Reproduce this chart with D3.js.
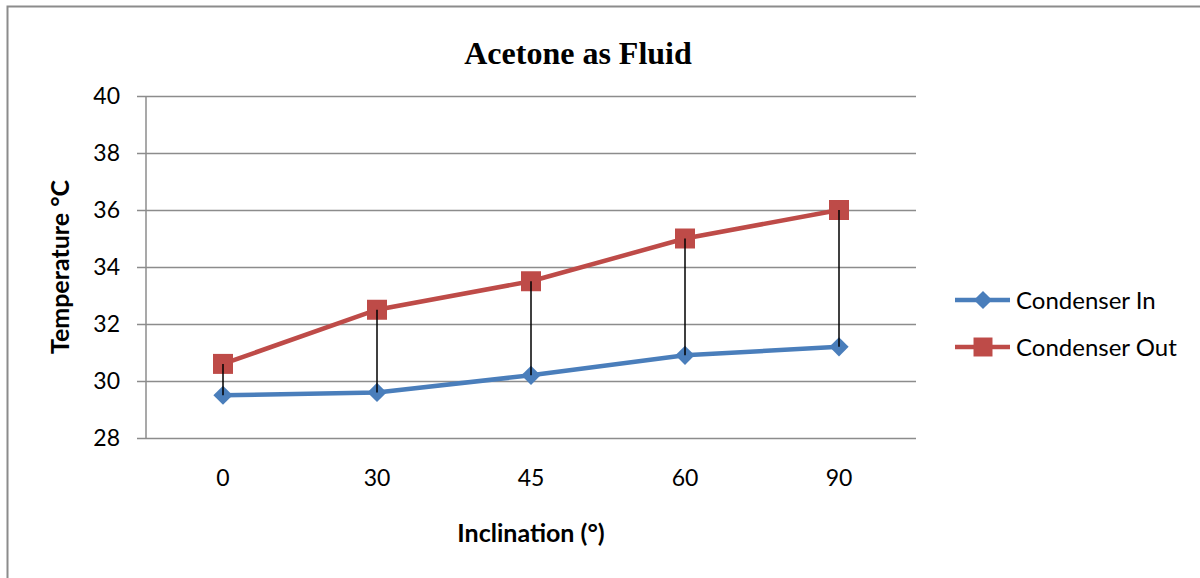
<!DOCTYPE html>
<html>
<head>
<meta charset="utf-8">
<script src="https://cdn.jsdelivr.net/npm/d3@7"></script>
<style>
  body { margin: 0; background: #fff; }
  text { font-family: Lato, "Open Sans", sans-serif; }
</style>
</head>
<body>
<div id="chart-area"></div>
<script>
const inclinations = ["0", "30", "45", "60", "90"];
const condenserIn = [29.5, 29.6, 30.2, 30.9, 31.2];
const condenserOut = [30.6, 32.5, 33.5, 35, 36];
const yTicks = [28, 30, 32, 34, 36, 38, 40];

const canvas_dims = { width: 1200, height: 578 };
const plot = { left: 146, right: 916, top: 96, bottom: 438 };

const svg = d3
  .select("#chart-area")
  .append("svg")
  .attr("width", canvas_dims.width)
  .attr("height", canvas_dims.height);

// frame (top and left edges visible)
svg.append("path")
  .attr("d", "M7.5,600 V6.5 H1210")
  .attr("fill", "none")
  .attr("stroke", "#8c8c8c")
  .attr("stroke-width", 2);

const x = d3.scaleBand().domain(inclinations).range([plot.left, plot.right]);
const y = d3.scaleLinear().domain([28, 40]).range([plot.bottom, plot.top]);
const cx = d => x(d) + x.bandwidth() / 2;

// gridlines + y axis
const yAxis = d3.axisLeft(y).tickValues(yTicks)
  .tickSize(-(plot.right - plot.left)).tickPadding(26);
const yg = svg.append("g")
  .attr("transform", `translate(${plot.left},0)`)
  .call(yAxis);
yg.select(".domain").remove();
yg.selectAll(".tick line")
  .attr("stroke", "#8c8c8c").attr("stroke-width", 1.5)
  .attr("x1", -9);
yg.selectAll(".tick text")
  .attr("font-size", 23).attr("fill", "#000")
  .attr("font-family", "Lato, sans-serif");

svg.append("line")
  .attr("x1", plot.left).attr("x2", plot.left)
  .attr("y1", plot.top).attr("y2", plot.bottom)
  .attr("stroke", "#8c8c8c").attr("stroke-width", 1.5);

// x axis labels
const xAxis = d3.axisBottom(x).tickSize(0).tickPadding(32);
const xg = svg.append("g")
  .attr("transform", `translate(0,${plot.bottom})`)
  .call(xAxis);
xg.select(".domain").remove();
xg.selectAll(".tick text")
  .attr("font-size", 23).attr("fill", "#000")
  .attr("font-family", "Lato, sans-serif");

const series = [
  { name: "Condenser In", values: condenserIn, color: "#4a7ebb", size: 185, rot: 45 },
  { name: "Condenser Out", values: condenserOut, color: "#be4b48", size: 400, rot: 0 }
];

const line = d3.line().x(d => cx(d.cat)).y(d => y(d.v));
const marker = d3.symbol().type(d3.symbolSquare);

series.forEach(s => {
  const pts = inclinations.map((c, i) => ({ cat: c, v: s.values[i] }));
  svg.append("path")
    .datum(pts)
    .attr("d", line)
    .attr("fill", "none")
    .attr("stroke", s.color)
    .attr("stroke-width", 4.5);
  svg.append("g").selectAll("path")
    .data(pts)
    .enter().append("path")
    .attr("d", marker.size(s.size)())
    .attr("transform", d => `translate(${cx(d.cat)},${y(d.v)}) rotate(${s.rot})`)
    .attr("fill", s.color);
});

// high-low lines, drawn over markers
svg.append("g").selectAll("line")
  .data(inclinations)
  .enter().append("line")
  .attr("x1", d => cx(d)).attr("x2", d => cx(d))
  .attr("y1", (d, i) => y(condenserOut[i]))
  .attr("y2", (d, i) => y(condenserIn[i]))
  .attr("stroke", "#000").attr("stroke-width", 1.5);

// legend
const legend = svg.append("g");
series.forEach((s, i) => {
  const ly = 300 + i * 47;
  legend.append("line")
    .attr("x1", 955).attr("x2", 1010).attr("y1", ly).attr("y2", ly)
    .attr("stroke", s.color).attr("stroke-width", 4.5);
  legend.append("path")
    .attr("d", marker.size(s.size * 0.9)())
    .attr("transform", `translate(983,${ly}) rotate(${s.rot})`)
    .attr("fill", s.color);
  legend.append("text")
    .attr("x", 1016).attr("y", ly).attr("dy", "0.36em")
    .attr("font-size", 24)
    .text(s.name);
});

// title
svg.append("text")
  .attr("x", 578).attr("y", 64)
  .attr("text-anchor", "middle")
  .style("font-family", "'Liberation Serif', serif")
  .attr("font-weight", "bold")
  .attr("font-size", 32)
  .text("Acetone as Fluid");

// axis titles
svg.append("text")
  .attr("x", 531).attr("y", 542)
  .attr("text-anchor", "middle")
  .attr("font-weight", "bold")
  .attr("font-size", 25)
  .text("Inclination (°)");

svg.append("text")
  .attr("transform", `translate(69,${(plot.top + plot.bottom) / 2}) rotate(-90)`)
  .attr("text-anchor", "middle")
  .attr("font-weight", "bold")
  .attr("font-size", 25)
  .text("Temperature °C");
</script>
</body>
</html>
